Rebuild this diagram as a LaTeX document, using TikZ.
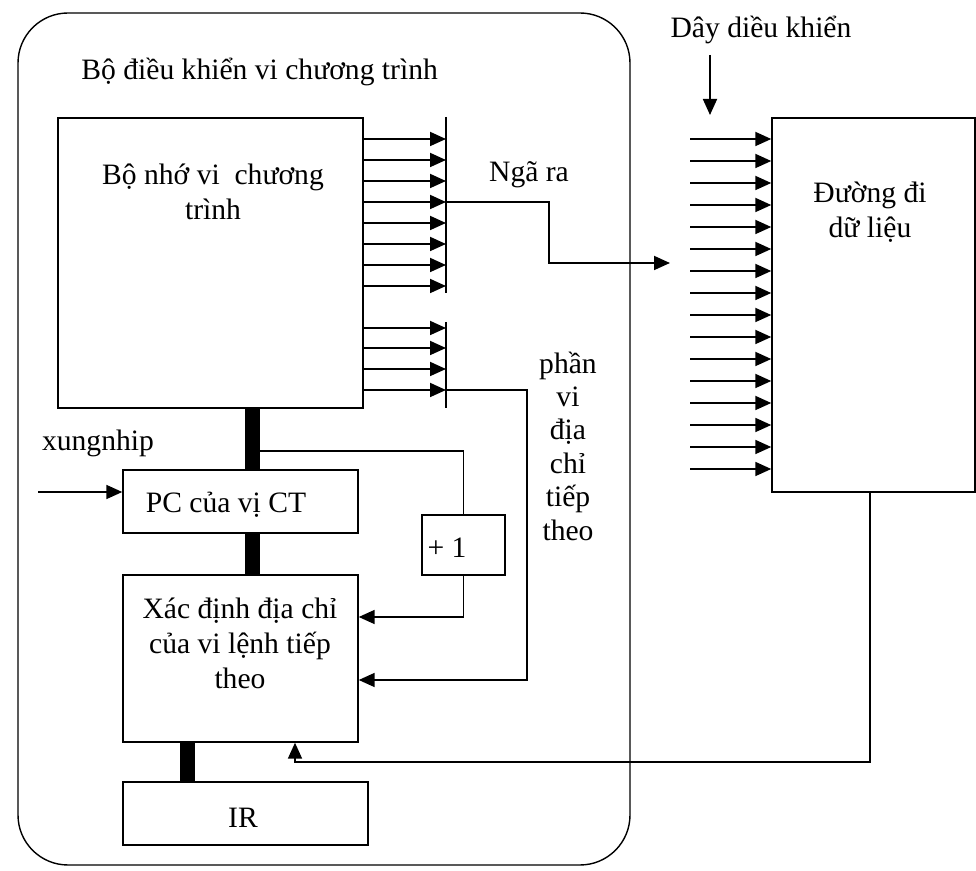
\documentclass[tikz,border=0pt]{standalone}
\usepackage{fontspec}
\setmainfont{Liberation Serif}
\usetikzlibrary{arrows.meta}

\tikzset{
  blk/.style={draw, line width=0.7pt, inner sep=0pt},
  bus/.style={line width=7.5pt},
  wire/.style={line width=0.7pt},
  sig/.style={line width=0.9pt, -{Triangle[length=8pt,width=7pt]}},
  txt/.style={align=center, inner sep=0pt},
}

\begin{document}
\begin{tikzpicture}[x=0.5pt, y=-0.5pt, font=\fontsize{14.8}{17.5}\selectfont]
  \useasboundingbox (0,0) rectangle (976,871);

  \draw[wire, rounded corners=25pt] (18,13) rectangle (630,865);
  \node[txt, anchor=west] (title) at (81,72) {Bộ điều khiển vi chương trình};

  \node[blk, minimum width=152.5pt, minimum height=145pt] (mem) at (210.5,263) {};
  \node[txt] (memtxt) at (213,192) {Bộ nhớ vi\ \ chương\\trình};
  \node[blk, minimum width=117.5pt, minimum height=31.5pt] (pc) at (240.5,501.5) {};
  \node[txt] (pctxt) at (226,505) {PC của vị CT};
  \node[blk, minimum width=117.5pt, minimum height=83.5pt] (xac) at (240.5,658.5) {};
  \node[txt] (xactxt) at (240,643) {Xác định địa chỉ\\của vi lệnh tiếp\\theo};
  \node[blk, minimum width=122.5pt, minimum height=31.5pt] (ir) at (245.5,813.5) {};
  \node[txt] (irtxt) at (243,818) {IR};
  \node[blk, minimum width=41.5pt, minimum height=30pt] (plus) at (463.5,545) {};
  \node[txt] (plustxt) at (447,548) {+ 1};
  \node[blk, minimum width=101.5pt, minimum height=187pt] (data) at (873.5,305) {};
  \node[txt] (datatxt) at (870,212) {Đường đi\\dữ liệu};

  \node[txt] (xung) at (98,443) {xungnhip};
  \node[txt] (ngara) at (529,175) {Ngã ra};
  \node[txt] (day) at (761,30) {Dây diều khiển};
  \node[txt, font=\fontsize{14.8}{16.7}\selectfont] (phan) at (568,446)
    {phần\\vi\\địa\\chỉ\\tiếp\\theo};

  \coordinate (b1t) at (446,117);
  \coordinate (b1b) at (446,293);
  \coordinate (b2t) at (446,322);
  \coordinate (b2b) at (446,408);
  \coordinate (tap) at (252,451);
  \coordinate (nout) at (670,263);
  \coordinate (xin) at (38,492);

  \draw[wire] (b1t) -- (b1b);
  \draw[wire] (b2t) -- (b2b);
  \foreach \y in {139,160,181,202,223,244,265,286}
    \draw[sig] (mem.east |- 0,\y) -- (b1t |- 0,\y);
  \foreach \y in {328,348,369,390}
    \draw[sig] (mem.east |- 0,\y) -- (b2t |- 0,\y);
  \foreach \i in {0,...,15}
    \draw[sig] (690,139+22*\i) -- (data.west |- 0,139+22*\i);

  \draw[sig] (b1t |- 0,202) -- (549,202) |- (nout);
  \draw[sig] (710,55) -- (710,115);
  \draw[sig] (xin) -- (pc.west |- xin);

  \draw[wire] (tap) -| (plus.north);
  \draw[sig] (plus.south) |- (xac.east |- 0,617);
  \draw[sig] (b2t |- 0,390) -- (527,390) |- (xac.east |- 0,680);
  \draw[sig] (data.south -| 870,0) |- (295,762) -- (295,0 |- xac.south);

  \draw[bus] (252,0 |- mem.south) -- (252,0 |- pc.north);
  \draw[bus] (252,0 |- pc.south) -- (252,0 |- xac.north);
  \draw[bus] (187,0 |- xac.south) -- (187,0 |- ir.north);
\end{tikzpicture}
\end{document}
